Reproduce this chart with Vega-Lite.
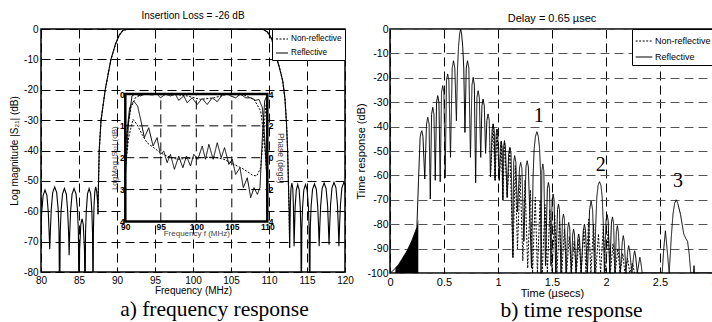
{
  "$schema": "https://vega.github.io/schema/vega-lite/v6.json",
  "background": "white",
  "padding": {"left": 8, "top": 9, "right": 0, "bottom": 0},
  "spacing": 0,
  "config": {
    "font": "Liberation Sans",
    "view": {"stroke": "black", "strokeWidth": 1.5},
    "axis": {"domain": false, "ticks": false, "grid": true, "gridColor": "black", "gridDash": [9, 5], "gridWidth": 1, "gridOpacity": 1, "labelColor": "black", "titleColor": "black", "titleFontWeight": "normal", "labelFlush": false, "labelOverlap": false, "labelFont": "Liberation Sans", "titleFont": "Liberation Sans"},
    "title": {"font": "Liberation Sans", "fontWeight": "normal", "color": "black"}
  },
  "resolve": {"scale": {"strokeDash": "independent"}, "legend": {"strokeDash": "independent"}},
  "datasets": {
    "freq": [
      {"f":80.0,"db":-65,"s":"Reflective"},{"f":80.09,"db":-60.4,"s":"Reflective"},{"f":80.28,"db":-54.8,"s":"Reflective"},{"f":80.53,"db":-53,"s":"Reflective"},{"f":80.78,"db":-54.8,"s":"Reflective"},{"f":80.96,"db":-60.4,"s":"Reflective"},{"f":81.08,"db":-67.6,"s":"Reflective"},{"f":81.15,"db":-72.5,"s":"Reflective"},
      {"f":81.23,"db":-66.6,"s":"Reflective"},{"f":81.35,"db":-59.4,"s":"Reflective"},{"f":81.54,"db":-53.8,"s":"Reflective"},{"f":81.8,"db":-52,"s":"Reflective"},{"f":82.06,"db":-53.8,"s":"Reflective"},{"f":82.26,"db":-59.4,"s":"Reflective"},{"f":82.37,"db":-66.6,"s":"Reflective"},{"f":82.45,"db":-95,"s":"Reflective"},
      {"f":82.53,"db":-67.1,"s":"Reflective"},{"f":82.64,"db":-59.9,"s":"Reflective"},{"f":82.83,"db":-54.3,"s":"Reflective"},{"f":83.08,"db":-52.5,"s":"Reflective"},{"f":83.33,"db":-54.3,"s":"Reflective"},{"f":83.51,"db":-59.9,"s":"Reflective"},{"f":83.63,"db":-67.1,"s":"Reflective"},{"f":83.7,"db":-74.5,"s":"Reflective"},
      {"f":83.78,"db":-67.1,"s":"Reflective"},{"f":83.9,"db":-59.9,"s":"Reflective"},{"f":84.09,"db":-54.3,"s":"Reflective"},{"f":84.35,"db":-52.5,"s":"Reflective"},{"f":84.61,"db":-54.3,"s":"Reflective"},{"f":84.81,"db":-59.9,"s":"Reflective"},{"f":84.92,"db":-67.1,"s":"Reflective"},{"f":85.0,"db":-95,"s":"Reflective"},
      {"f":85.08,"db":-72.7,"s":"Reflective"},{"f":85.24,"db":-64.3,"s":"Reflective"},{"f":85.4,"db":-62.5,"s":"Reflective"},{"f":85.56,"db":-64.3,"s":"Reflective"},{"f":85.72,"db":-72.7,"s":"Reflective"},{"f":85.8,"db":-95,"s":"Reflective"},
      {"f":85.86,"db":-67.1,"s":"Reflective"},{"f":85.96,"db":-59.9,"s":"Reflective"},{"f":86.12,"db":-54.3,"s":"Reflective"},{"f":86.33,"db":-52.5,"s":"Reflective"},{"f":86.54,"db":-54.3,"s":"Reflective"},{"f":86.69,"db":-59.9,"s":"Reflective"},{"f":86.78,"db":-67.1,"s":"Reflective"},{"f":86.85,"db":-95,"s":"Reflective"},
      {"f":86.9,"db":-66,"s":"Reflective"},{"f":86.98,"db":-58,"s":"Reflective"},{"f":87.08,"db":-53.5,"s":"Reflective"},{"f":87.2,"db":-52,"s":"Reflective"},{"f":87.33,"db":-53.5,"s":"Reflective"},{"f":87.45,"db":-57,"s":"Reflective"},{"f":87.5,"db":-61,"s":"Reflective"},{"f":87.53,"db":-55,"s":"Reflective"},{"f":87.66,"db":-40,"s":"Reflective"},{"f":87.9,"db":-30,"s":"Reflective"},{"f":88.45,"db":-20,"s":"Reflective"},{"f":89.2,"db":-10,"s":"Reflective"},{"f":89.8,"db":-5,"s":"Reflective"},{"f":90.3,"db":-2,"s":"Reflective"},{"f":90.8,"db":-0.4,"s":"Reflective"},{"f":91.5,"db":-0.05,"s":"Reflective"},{"f":92.5,"db":0,"s":"Reflective"},{"f":108.5,"db":0,"s":"Reflective"},{"f":109.3,"db":-0.2,"s":"Reflective"},{"f":109.8,"db":-1,"s":"Reflective"},{"f":110.3,"db":-3,"s":"Reflective"},{"f":110.7,"db":-6,"s":"Reflective"},{"f":111.0,"db":-9.5,"s":"Reflective"},{"f":111.4,"db":-13,"s":"Reflective"},{"f":111.8,"db":-17,"s":"Reflective"},{"f":112.1,"db":-23,"s":"Reflective"},{"f":112.3,"db":-31,"s":"Reflective"},{"f":112.45,"db":-40,"s":"Reflective"},{"f":112.55,"db":-50,"s":"Reflective"},{"f":112.65,"db":-60,"s":"Reflective"},{"f":112.72,"db":-72,"s":"Reflective"},
      {"f":112.81,"db":-58.1,"s":"Reflective"},{"f":112.89,"db":-52.5,"s":"Reflective"},{"f":113.01,"db":-50.7,"s":"Reflective"},{"f":113.13,"db":-52.5,"s":"Reflective"},{"f":113.21,"db":-58.1,"s":"Reflective"},{"f":113.3,"db":-71.5,"s":"Reflective"},
      {"f":113.36,"db":-65.8,"s":"Reflective"},{"f":113.44,"db":-58.6,"s":"Reflective"},{"f":113.59,"db":-53,"s":"Reflective"},{"f":113.78,"db":-51.2,"s":"Reflective"},{"f":113.97,"db":-53,"s":"Reflective"},{"f":114.11,"db":-58.6,"s":"Reflective"},{"f":114.19,"db":-65.8,"s":"Reflective"},{"f":114.25,"db":-95,"s":"Reflective"},
      {"f":114.32,"db":-65.8,"s":"Reflective"},{"f":114.42,"db":-58.6,"s":"Reflective"},{"f":114.58,"db":-53,"s":"Reflective"},{"f":114.8,"db":-51.2,"s":"Reflective"},{"f":115.02,"db":-53,"s":"Reflective"},{"f":115.19,"db":-58.6,"s":"Reflective"},{"f":115.28,"db":-65.8,"s":"Reflective"},{"f":115.35,"db":-95,"s":"Reflective"},
      {"f":115.43,"db":-65.6,"s":"Reflective"},{"f":115.54,"db":-58.4,"s":"Reflective"},{"f":115.73,"db":-52.8,"s":"Reflective"},{"f":115.98,"db":-51,"s":"Reflective"},{"f":116.23,"db":-52.8,"s":"Reflective"},{"f":116.41,"db":-58.4,"s":"Reflective"},{"f":116.53,"db":-65.6,"s":"Reflective"},{"f":116.6,"db":-71.5,"s":"Reflective"},
      {"f":116.68,"db":-65.3,"s":"Reflective"},{"f":116.8,"db":-58.1,"s":"Reflective"},{"f":116.99,"db":-52.5,"s":"Reflective"},{"f":117.25,"db":-50.7,"s":"Reflective"},{"f":117.51,"db":-52.5,"s":"Reflective"},{"f":117.71,"db":-58.1,"s":"Reflective"},{"f":117.82,"db":-65.3,"s":"Reflective"},{"f":117.9,"db":-71,"s":"Reflective"},
      {"f":117.98,"db":-65.1,"s":"Reflective"},{"f":118.1,"db":-57.9,"s":"Reflective"},{"f":118.29,"db":-52.3,"s":"Reflective"},{"f":118.55,"db":-50.5,"s":"Reflective"},{"f":118.81,"db":-52.3,"s":"Reflective"},{"f":119.01,"db":-57.9,"s":"Reflective"},{"f":119.12,"db":-65.1,"s":"Reflective"},{"f":119.2,"db":-71.5,"s":"Reflective"},
      {"f":119.28,"db":-65.1,"s":"Reflective"},{"f":119.4,"db":-57.9,"s":"Reflective"},{"f":119.59,"db":-52.3,"s":"Reflective"},{"f":119.85,"db":-50.5,"s":"Reflective"},{"f":120.0,"db":-51.2,"s":"Reflective"},
      {"f":87.5,"db":-61,"s":"Non-reflective"},{"f":87.53,"db":-55,"s":"Non-reflective"},{"f":87.66,"db":-40,"s":"Non-reflective"},{"f":87.9,"db":-30,"s":"Non-reflective"},{"f":88.45,"db":-20,"s":"Non-reflective"},{"f":89.2,"db":-10,"s":"Non-reflective"},{"f":89.8,"db":-5,"s":"Non-reflective"},{"f":90.3,"db":-2,"s":"Non-reflective"},{"f":90.8,"db":-0.4,"s":"Non-reflective"},{"f":91.5,"db":-0.05,"s":"Non-reflective"},{"f":92.5,"db":0,"s":"Non-reflective"},{"f":108.5,"db":0,"s":"Non-reflective"},{"f":109.3,"db":-0.2,"s":"Non-reflective"},{"f":109.8,"db":-1,"s":"Non-reflective"},{"f":110.3,"db":-3,"s":"Non-reflective"},{"f":110.7,"db":-6,"s":"Non-reflective"},{"f":111.0,"db":-9.5,"s":"Non-reflective"},{"f":111.4,"db":-13,"s":"Non-reflective"},{"f":111.8,"db":-17,"s":"Non-reflective"},{"f":112.1,"db":-23,"s":"Non-reflective"},{"f":112.3,"db":-31,"s":"Non-reflective"},{"f":112.45,"db":-40,"s":"Non-reflective"},{"f":112.55,"db":-50,"s":"Non-reflective"},{"f":112.65,"db":-60,"s":"Non-reflective"},{"f":112.72,"db":-72,"s":"Non-reflective"}
    ],
    "mag": [
      {"f":90,"mag":-2.63,"s":"Reflective"},{"f":90.47,"mag":-0.85,"s":"Reflective"},{"f":90.94,"mag":-0.06,"s":"Reflective"},{"f":91.41,"mag":0,"s":"Reflective"},{"f":92.12,"mag":-0.06,"s":"Reflective"},{"f":92.82,"mag":0,"s":"Reflective"},{"f":93.77,"mag":-0.03,"s":"Reflective"},{"f":94.47,"mag":0,"s":"Reflective"},{"f":94.94,"mag":-0.12,"s":"Reflective"},{"f":95.65,"mag":-0.01,"s":"Reflective"},{"f":96.36,"mag":-0.06,"s":"Reflective"},{"f":97.06,"mag":-0.01,"s":"Reflective"},{"f":97.53,"mag":-0.2,"s":"Reflective"},{"f":98.24,"mag":-0.06,"s":"Reflective"},{"f":98.71,"mag":-0.27,"s":"Reflective"},{"f":99.42,"mag":-0.12,"s":"Reflective"},{"f":100.12,"mag":-0.33,"s":"Reflective"},{"f":100.83,"mag":-0.14,"s":"Reflective"},{"f":101.53,"mag":-0.33,"s":"Reflective"},{"f":102.24,"mag":-0.12,"s":"Reflective"},{"f":102.95,"mag":-0.24,"s":"Reflective"},{"f":103.65,"mag":-0.03,"s":"Reflective"},{"f":104.36,"mag":0,"s":"Reflective"},{"f":104.83,"mag":-0.06,"s":"Reflective"},{"f":105.54,"mag":-0.12,"s":"Reflective"},{"f":106.24,"mag":0,"s":"Reflective"},{"f":106.95,"mag":-0.12,"s":"Reflective"},{"f":107.66,"mag":-0.12,"s":"Reflective"},{"f":108.36,"mag":-0.2,"s":"Reflective"},{"f":108.83,"mag":-0.17,"s":"Reflective"},{"f":109.3,"mag":-0.43,"s":"Reflective"},{"f":109.63,"mag":-1.37,"s":"Reflective"},{"f":110.0,"mag":-2.94,"s":"Reflective"},
      {"f":90,"mag":-2.42,"s":"Non-reflective"},{"f":90.33,"mag":-1.06,"s":"Non-reflective"},{"f":90.8,"mag":-0.43,"s":"Non-reflective"},{"f":91.41,"mag":-0.12,"s":"Non-reflective"},{"f":92.35,"mag":-0.01,"s":"Non-reflective"},{"f":94.0,"mag":0,"s":"Non-reflective"},{"f":96.36,"mag":0,"s":"Non-reflective"},{"f":98.71,"mag":-0.06,"s":"Non-reflective"},{"f":100.59,"mag":-0.17,"s":"Non-reflective"},{"f":102.48,"mag":-0.12,"s":"Non-reflective"},{"f":104.36,"mag":-0.01,"s":"Non-reflective"},{"f":106.71,"mag":-0.03,"s":"Non-reflective"},{"f":108.13,"mag":-0.17,"s":"Non-reflective"},{"f":109.07,"mag":-0.53,"s":"Non-reflective"},{"f":109.54,"mag":-1.37,"s":"Non-reflective"},{"f":109.92,"mag":-2.52,"s":"Non-reflective"}
    ],
    "phase": [
      {"f":90,"phase":0.63,"s":"Reflective"},{"f":90.61,"phase":3.14,"s":"Reflective"},{"f":91.18,"phase":3.56,"s":"Reflective"},{"f":91.74,"phase":3.24,"s":"Reflective"},{"f":92.21,"phase":2.3,"s":"Reflective"},{"f":92.68,"phase":1.26,"s":"Reflective"},{"f":93.3,"phase":1.88,"s":"Reflective"},{"f":93.91,"phase":0.73,"s":"Reflective"},{"f":94.47,"phase":1.26,"s":"Reflective"},{"f":94.94,"phase":0.21,"s":"Reflective"},{"f":95.41,"phase":0.42,"s":"Reflective"},{"f":95.89,"phase":-0.31,"s":"Reflective"},{"f":96.36,"phase":0.21,"s":"Reflective"},{"f":96.92,"phase":-0.73,"s":"Reflective"},{"f":97.53,"phase":0.1,"s":"Reflective"},{"f":98.1,"phase":-0.63,"s":"Reflective"},{"f":98.62,"phase":0.1,"s":"Reflective"},{"f":99.18,"phase":-0.52,"s":"Reflective"},{"f":99.65,"phase":0.21,"s":"Reflective"},{"f":100.22,"phase":-0.1,"s":"Reflective"},{"f":100.83,"phase":0.73,"s":"Reflective"},{"f":101.3,"phase":-0.1,"s":"Reflective"},{"f":101.77,"phase":0.84,"s":"Reflective"},{"f":102.38,"phase":-0.1,"s":"Reflective"},{"f":102.95,"phase":0.94,"s":"Reflective"},{"f":103.51,"phase":0.0,"s":"Reflective"},{"f":103.98,"phase":0.63,"s":"Reflective"},{"f":104.6,"phase":-0.42,"s":"Reflective"},{"f":105.07,"phase":-0.1,"s":"Reflective"},{"f":105.54,"phase":-1.05,"s":"Reflective"},{"f":106.15,"phase":-0.63,"s":"Reflective"},{"f":106.62,"phase":-1.88,"s":"Reflective"},{"f":107.18,"phase":-1.26,"s":"Reflective"},{"f":107.66,"phase":-2.51,"s":"Reflective"},{"f":108.13,"phase":-1.88,"s":"Reflective"},{"f":108.6,"phase":-2.3,"s":"Reflective"},{"f":108.97,"phase":-1.88,"s":"Reflective"},{"f":109.3,"phase":1.26,"s":"Reflective"},{"f":109.63,"phase":3.56,"s":"Reflective"},{"f":110.0,"phase":3.98,"s":"Reflective"},
      {"f":90,"phase":-0.63,"s":"Non-reflective"},{"f":90.47,"phase":1.26,"s":"Non-reflective"},{"f":91.08,"phase":2.41,"s":"Non-reflective"},{"f":91.65,"phase":2.09,"s":"Non-reflective"},{"f":92.35,"phase":1.47,"s":"Non-reflective"},{"f":93.06,"phase":0.94,"s":"Non-reflective"},{"f":94.0,"phase":0.63,"s":"Non-reflective"},{"f":94.94,"phase":0.31,"s":"Non-reflective"},{"f":95.89,"phase":0.1,"s":"Non-reflective"},{"f":97.3,"phase":-0.1,"s":"Non-reflective"},{"f":98.71,"phase":-0.04,"s":"Non-reflective"},{"f":100.59,"phase":0.0,"s":"Non-reflective"},{"f":102.48,"phase":0.04,"s":"Non-reflective"},{"f":103.89,"phase":-0.1,"s":"Non-reflective"},{"f":105.3,"phase":-0.42,"s":"Non-reflective"},{"f":106.71,"phase":-0.73,"s":"Non-reflective"},{"f":107.89,"phase":-1.09,"s":"Non-reflective"},{"f":108.5,"phase":-1.15,"s":"Non-reflective"},{"f":109.07,"phase":-0.63,"s":"Non-reflective"},{"f":109.44,"phase":1.26,"s":"Non-reflective"},{"f":109.77,"phase":3.14,"s":"Non-reflective"},{"f":110.0,"phase":3.77,"s":"Non-reflective"}
    ],
    "insetbox": [{"x1":90,"x2":110,"y1":-4,"y2":0}],
    "insetgrid": [
      {"x1":95,"x2":95,"y1":-4,"y2":0},{"x1":100,"x2":100,"y1":-4,"y2":0},{"x1":105,"x2":105,"y1":-4,"y2":0},
      {"x1":90,"x2":110,"y1":-1,"y2":-1},{"x1":90,"x2":110,"y1":-2,"y2":-2},{"x1":90,"x2":110,"y1":-3,"y2":-3}
    ],
    "fill": [
      {"t":0.05,"db":-98},{"t":0.08,"db":-96.5},{"t":0.157,"db":-91},{"t":0.2,"db":-87},{"t":0.249,"db":-81.3},{"t":0.262,"db":-78}
    ],
    "time": [
      {"t":0,"db":-100,"s":"Reflective"},{"t":0.03,"db":-99,"s":"Reflective"},{"t":0.08,"db":-96.5,"s":"Reflective"},{"t":0.157,"db":-91,"s":"Reflective"},{"t":0.2,"db":-87,"s":"Reflective"},{"t":0.249,"db":-81.3,"s":"Reflective"},{"t":0.264,"db":-62,"s":"Reflective"},{"t":0.279,"db":-44.4,"s":"Reflective"},{"t":0.287,"db":-42.5,"s":"Reflective"},{"t":0.295,"db":-41.7,"s":"Reflective"},{"t":0.305,"db":-44,"s":"Reflective"},{"t":0.322,"db":-61.5,"s":"Reflective"},
      {"t":0.338,"db":-39,"s":"Reflective"},{"t":0.35,"db":-36.2,"s":"Reflective"},{"t":0.362,"db":-39,"s":"Reflective"},{"t":0.373,"db":-69.7,"s":"Reflective"},{"t":0.385,"db":-35,"s":"Reflective"},{"t":0.396,"db":-32.1,"s":"Reflective"},{"t":0.407,"db":-35,"s":"Reflective"},{"t":0.419,"db":-62,"s":"Reflective"},{"t":0.431,"db":-30,"s":"Reflective"},{"t":0.442,"db":-27.3,"s":"Reflective"},{"t":0.453,"db":-30,"s":"Reflective"},{"t":0.465,"db":-62.6,"s":"Reflective"},{"t":0.477,"db":-26,"s":"Reflective"},{"t":0.488,"db":-23.2,"s":"Reflective"},{"t":0.499,"db":-26,"s":"Reflective"},{"t":0.511,"db":-61,"s":"Reflective"},{"t":0.523,"db":-21,"s":"Reflective"},{"t":0.534,"db":-18.4,"s":"Reflective"},{"t":0.545,"db":-21,"s":"Reflective"},{"t":0.56,"db":-52.6,"s":"Reflective"},{"t":0.576,"db":-16,"s":"Reflective"},{"t":0.588,"db":-13,"s":"Reflective"},{"t":0.6,"db":-16,"s":"Reflective"},{"t":0.615,"db":-37.6,"s":"Reflective"},
      {"t":0.625,"db":-16,"s":"Reflective"},{"t":0.635,"db":-7,"s":"Reflective"},{"t":0.645,"db":-2,"s":"Reflective"},{"t":0.654,"db":0,"s":"Reflective"},{"t":0.663,"db":-2,"s":"Reflective"},{"t":0.673,"db":-7,"s":"Reflective"},{"t":0.683,"db":-16,"s":"Reflective"},{"t":0.694,"db":-42.4,"s":"Reflective"},
      {"t":0.706,"db":-16,"s":"Reflective"},{"t":0.718,"db":-13,"s":"Reflective"},{"t":0.73,"db":-16,"s":"Reflective"},{"t":0.745,"db":-52.6,"s":"Reflective"},{"t":0.759,"db":-23,"s":"Reflective"},{"t":0.77,"db":-19.8,"s":"Reflective"},{"t":0.781,"db":-23,"s":"Reflective"},{"t":0.793,"db":-63,"s":"Reflective"},{"t":0.805,"db":-28,"s":"Reflective"},{"t":0.816,"db":-25.3,"s":"Reflective"},{"t":0.827,"db":-28,"s":"Reflective"},{"t":0.84,"db":-52.6,"s":"Reflective"},{"t":0.851,"db":-31.5,"s":"Reflective"},{"t":0.862,"db":-28.7,"s":"Reflective"},{"t":0.873,"db":-31.5,"s":"Reflective"},{"t":0.885,"db":-51,"s":"Reflective"},{"t":0.897,"db":-37.5,"s":"Reflective"},{"t":0.908,"db":-34.8,"s":"Reflective"},{"t":0.919,"db":-37.5,"s":"Reflective"},{"t":0.93,"db":-60.5,"s":"Reflective"},{"t":0.945,"db":-41.5,"s":"Reflective"},{"t":0.955,"db":-38.9,"s":"Reflective"},{"t":0.965,"db":-41.5,"s":"Reflective"},{"t":0.973,"db":-62,"s":"Reflective"},{"t":0.982,"db":-43.5,"s":"Reflective"},{"t":0.99,"db":-41,"s":"Reflective"},{"t":0.998,"db":-43.5,"s":"Reflective"},{"t":1.012,"db":-62,"s":"Reflective"},
      {"t":1.022,"db":-48.5,"s":"Reflective"},{"t":1.03,"db":-46,"s":"Reflective"},{"t":1.038,"db":-48.5,"s":"Reflective"},{"t":1.045,"db":-70,"s":"Reflective"},{"t":1.051,"db":-48.5,"s":"Reflective"},{"t":1.06,"db":-45.8,"s":"Reflective"},{"t":1.069,"db":-48.5,"s":"Reflective"},{"t":1.085,"db":-69,"s":"Reflective"},{"t":1.099,"db":-51,"s":"Reflective"},{"t":1.11,"db":-48.5,"s":"Reflective"},{"t":1.121,"db":-51,"s":"Reflective"},{"t":1.138,"db":-93.6,"s":"Reflective"},{"t":1.145,"db":-54.5,"s":"Reflective"},{"t":1.154,"db":-51.9,"s":"Reflective"},{"t":1.165,"db":-54.5,"s":"Reflective"},{"t":1.18,"db":-75,"s":"Reflective"},{"t":1.199,"db":-57,"s":"Reflective"},{"t":1.21,"db":-54.7,"s":"Reflective"},{"t":1.221,"db":-57,"s":"Reflective"},{"t":1.24,"db":-87,"s":"Reflective"},{"t":1.259,"db":-56.5,"s":"Reflective"},{"t":1.27,"db":-54,"s":"Reflective"},{"t":1.281,"db":-56.5,"s":"Reflective"},{"t":1.31,"db":-98,"s":"Reflective"},
      {"t":1.325,"db":-60,"s":"Reflective"},{"t":1.335,"db":-49,"s":"Reflective"},{"t":1.347,"db":-44,"s":"Reflective"},{"t":1.36,"db":-42.1,"s":"Reflective"},{"t":1.373,"db":-44,"s":"Reflective"},{"t":1.385,"db":-49,"s":"Reflective"},{"t":1.395,"db":-60,"s":"Reflective"},{"t":1.398,"db":-100,"s":"Reflective"},
      {"t":1.406,"db":-58,"s":"Reflective"},{"t":1.415,"db":-55.3,"s":"Reflective"},{"t":1.424,"db":-58,"s":"Reflective"},{"t":1.44,"db":-97,"s":"Reflective"},{"t":1.457,"db":-65.5,"s":"Reflective"},{"t":1.467,"db":-62.9,"s":"Reflective"},{"t":1.477,"db":-65.5,"s":"Reflective"},{"t":1.49,"db":-97,"s":"Reflective"},{"t":1.501,"db":-70,"s":"Reflective"},{"t":1.51,"db":-67.6,"s":"Reflective"},{"t":1.519,"db":-70,"s":"Reflective"},{"t":1.535,"db":-100,"s":"Reflective"},{"t":1.551,"db":-74,"s":"Reflective"},{"t":1.56,"db":-71.7,"s":"Reflective"},{"t":1.569,"db":-74,"s":"Reflective"},{"t":1.583,"db":-100,"s":"Reflective"},{"t":1.597,"db":-78,"s":"Reflective"},{"t":1.606,"db":-75.8,"s":"Reflective"},{"t":1.615,"db":-78,"s":"Reflective"},{"t":1.63,"db":-100,"s":"Reflective"},{"t":1.646,"db":-81.5,"s":"Reflective"},{"t":1.655,"db":-79.3,"s":"Reflective"},{"t":1.664,"db":-81.5,"s":"Reflective"},{"t":1.678,"db":-100,"s":"Reflective"},{"t":1.692,"db":-84,"s":"Reflective"},{"t":1.7,"db":-82,"s":"Reflective"},{"t":1.708,"db":-84,"s":"Reflective"},{"t":1.722,"db":-100,"s":"Reflective"},{"t":1.739,"db":-86,"s":"Reflective"},{"t":1.747,"db":-84,"s":"Reflective"},{"t":1.755,"db":-86,"s":"Reflective"},{"t":1.77,"db":-100,"s":"Reflective"},{"t":1.79,"db":-82.5,"s":"Reflective"},{"t":1.8,"db":-80,"s":"Reflective"},{"t":1.81,"db":-82.5,"s":"Reflective"},{"t":1.828,"db":-100,"s":"Reflective"},{"t":1.848,"db":-74,"s":"Reflective"},{"t":1.862,"db":-70.5,"s":"Reflective"},{"t":1.876,"db":-74,"s":"Reflective"},{"t":1.895,"db":-100,"s":"Reflective"},
      {"t":1.905,"db":-80,"s":"Reflective"},{"t":1.915,"db":-69,"s":"Reflective"},{"t":1.927,"db":-64,"s":"Reflective"},{"t":1.94,"db":-62.6,"s":"Reflective"},{"t":1.953,"db":-64,"s":"Reflective"},{"t":1.965,"db":-69,"s":"Reflective"},{"t":1.975,"db":-80,"s":"Reflective"},{"t":1.985,"db":-100,"s":"Reflective"},
      {"t":2.0,"db":-78.5,"s":"Reflective"},{"t":2.01,"db":-76,"s":"Reflective"},{"t":2.02,"db":-78.5,"s":"Reflective"},{"t":2.035,"db":-100,"s":"Reflective"},{"t":2.05,"db":-79.5,"s":"Reflective"},{"t":2.06,"db":-77,"s":"Reflective"},{"t":2.07,"db":-79.5,"s":"Reflective"},{"t":2.083,"db":-100,"s":"Reflective"},{"t":2.096,"db":-83,"s":"Reflective"},{"t":2.105,"db":-80.6,"s":"Reflective"},{"t":2.114,"db":-83,"s":"Reflective"},{"t":2.133,"db":-100,"s":"Reflective"},{"t":2.151,"db":-87,"s":"Reflective"},{"t":2.16,"db":-84.7,"s":"Reflective"},{"t":2.169,"db":-87,"s":"Reflective"},{"t":2.185,"db":-100,"s":"Reflective"},{"t":2.201,"db":-91,"s":"Reflective"},{"t":2.21,"db":-88.8,"s":"Reflective"},{"t":2.219,"db":-91,"s":"Reflective"},{"t":2.24,"db":-100,"s":"Reflective"},{"t":2.256,"db":-93,"s":"Reflective"},{"t":2.265,"db":-90.9,"s":"Reflective"},{"t":2.274,"db":-93,"s":"Reflective"},{"t":2.29,"db":-100,"s":"Reflective"},{"t":2.306,"db":-95.5,"s":"Reflective"},{"t":2.314,"db":-93.6,"s":"Reflective"},{"t":2.322,"db":-95.5,"s":"Reflective"},{"t":2.335,"db":-100,"s":"Reflective"},
      {"t":2.52,"db":-100,"s":"Reflective"},{"t":2.535,"db":-90,"s":"Reflective"},{"t":2.55,"db":-82.7,"s":"Reflective"},{"t":2.565,"db":-90,"s":"Reflective"},{"t":2.585,"db":-100,"s":"Reflective"},{"t":2.605,"db":-85,"s":"Reflective"},{"t":2.62,"db":-76,"s":"Reflective"},{"t":2.635,"db":-71.5,"s":"Reflective"},{"t":2.65,"db":-70,"s":"Reflective"},{"t":2.665,"db":-71.5,"s":"Reflective"},{"t":2.69,"db":-76,"s":"Reflective"},{"t":2.72,"db":-84,"s":"Reflective"},{"t":2.74,"db":-86,"s":"Reflective"},{"t":2.755,"db":-87,"s":"Reflective"},{"t":2.77,"db":-92,"s":"Reflective"},{"t":2.785,"db":-100,"s":"Reflective"},{"t":2.81,"db":-100,"s":"Reflective"},{"t":2.815,"db":-97,"s":"Reflective"},{"t":2.82,"db":-100,"s":"Reflective"},{"t":3.0,"db":-100,"s":"Reflective"},
      {"t":0.93,"db":-60.5,"s":"Non-reflective"},{"t":0.955,"db":-38.9,"s":"Non-reflective"},{"t":0.973,"db":-62,"s":"Non-reflective"},{"t":0.99,"db":-41,"s":"Non-reflective"},{"t":1.012,"db":-62,"s":"Non-reflective"},{"t":1.03,"db":-46,"s":"Non-reflective"},{"t":1.045,"db":-70,"s":"Non-reflective"},{"t":1.06,"db":-45.8,"s":"Non-reflective"},{"t":1.085,"db":-69,"s":"Non-reflective"},{"t":1.11,"db":-48.5,"s":"Non-reflective"},{"t":1.138,"db":-93.6,"s":"Non-reflective"},{"t":1.16,"db":-56,"s":"Non-reflective"},{"t":1.18,"db":-90,"s":"Non-reflective"},{"t":1.205,"db":-60,"s":"Non-reflective"},{"t":1.23,"db":-95,"s":"Non-reflective"},{"t":1.25,"db":-62,"s":"Non-reflective"},{"t":1.275,"db":-98,"s":"Non-reflective"},{"t":1.3,"db":-66,"s":"Non-reflective"},{"t":1.32,"db":-100,"s":"Non-reflective"},{"t":1.345,"db":-69,"s":"Non-reflective"},{"t":1.365,"db":-100,"s":"Non-reflective"},{"t":1.39,"db":-70,"s":"Non-reflective"},{"t":1.41,"db":-100,"s":"Non-reflective"},{"t":1.435,"db":-72,"s":"Non-reflective"},{"t":1.457,"db":-100,"s":"Non-reflective"},{"t":1.48,"db":-74,"s":"Non-reflective"},{"t":1.5,"db":-100,"s":"Non-reflective"},{"t":1.525,"db":-76,"s":"Non-reflective"},{"t":1.545,"db":-100,"s":"Non-reflective"},{"t":1.57,"db":-79,"s":"Non-reflective"},{"t":1.59,"db":-100,"s":"Non-reflective"},{"t":1.615,"db":-82,"s":"Non-reflective"},{"t":1.635,"db":-100,"s":"Non-reflective"},{"t":1.66,"db":-85,"s":"Non-reflective"},{"t":1.68,"db":-100,"s":"Non-reflective"},{"t":1.705,"db":-87,"s":"Non-reflective"},{"t":1.725,"db":-100,"s":"Non-reflective"},{"t":1.75,"db":-86,"s":"Non-reflective"},{"t":1.77,"db":-100,"s":"Non-reflective"},{"t":1.795,"db":-82,"s":"Non-reflective"},{"t":1.815,"db":-100,"s":"Non-reflective"},{"t":1.84,"db":-78,"s":"Non-reflective"},{"t":1.86,"db":-100,"s":"Non-reflective"},{"t":1.885,"db":-80,"s":"Non-reflective"},{"t":1.905,"db":-100,"s":"Non-reflective"},{"t":1.93,"db":-84,"s":"Non-reflective"},{"t":1.95,"db":-100,"s":"Non-reflective"},{"t":1.975,"db":-81,"s":"Non-reflective"},{"t":1.995,"db":-100,"s":"Non-reflective"},{"t":2.02,"db":-83,"s":"Non-reflective"},{"t":2.04,"db":-100,"s":"Non-reflective"},{"t":2.065,"db":-88,"s":"Non-reflective"},{"t":2.085,"db":-100,"s":"Non-reflective"},{"t":2.11,"db":-90,"s":"Non-reflective"},{"t":2.13,"db":-100,"s":"Non-reflective"},{"t":2.155,"db":-92,"s":"Non-reflective"},{"t":2.175,"db":-100,"s":"Non-reflective"},{"t":2.2,"db":-94,"s":"Non-reflective"},{"t":2.22,"db":-100,"s":"Non-reflective"},{"t":2.245,"db":-96,"s":"Non-reflective"},{"t":2.265,"db":-100,"s":"Non-reflective"},{"t":2.3,"db":-100,"s":"Non-reflective"}
    ],
    "marks": [
      {"t":1.378,"db":-35.6,"label":"1"},{"t":1.952,"db":-55.6,"label":"2"},{"t":2.666,"db":-62.2,"label":"3"}
    ]
  },
  "hconcat": [
    {
      "title": {"text": "a) frequency response", "orient": "bottom", "font": "Liberation Serif", "fontSize": 21.5, "fontWeight": "normal", "offset": 3, "anchor": "middle", "dx": 33},
      "resolve": {"scale": {"strokeDash": "independent"}, "legend": {"strokeDash": "independent"}},
      "vconcat": [
        {
          "width": 304,
          "height": 243,
          "title": {"text": "Insertion Loss = -26 dB", "fontSize": 10, "offset": 3.5},
          "layer": [
            {
              "data": {"name": "freq"},
              "mark": {"type": "line", "clip": true, "color": "black", "strokeWidth": 1.1},
              "encoding": {
                "x": {"field": "f", "type": "quantitative", "scale": {"domain": [80, 120], "nice": false, "zero": false},
                  "axis": {"orient": "bottom", "values": [80, 85, 90, 95, 100, 105, 110, 115, 120], "labelExpr": "'' + datum.value", "title": "Frequency  (MHz)", "labelFontSize": 10, "titleFontSize": 10, "labelPadding": 3, "titlePadding": 0}},
                "y": {"field": "db", "type": "quantitative", "scale": {"domain": [-80, 0], "nice": false, "zero": false},
                  "axis": {"orient": "left", "values": [-80, -70, -60, -50, -40, -30, -20, -10, 0], "labelExpr": "'' + datum.value", "title": "Log magnitude  |S₂₁|  (dB)", "labelFontSize": 10, "titleFontSize": 10, "labelPadding": 3, "titlePadding": 4}},
                "strokeDash": {"field": "s", "type": "nominal", "scale": {"domain": ["Non-reflective", "Reflective"], "range": [[2, 1.5], [1, 0]]},
                  "legend": {"orient": "top-right", "offset": 0, "title": null, "strokeColor": "black", "fillColor": "white", "padding": 3, "labelFontSize": 8.2, "labelColor": "black", "symbolType": "stroke", "symbolSize": 144, "symbolStrokeWidth": 1.2, "symbolStrokeColor": "black", "rowPadding": 3, "labelOffset": 2}}
              }
            },
            {
              "layer": [
                {
                  "layer": [
                    {
                      "data": {"name": "insetbox"},
                      "mark": {"type": "rect", "fill": "white", "stroke": "black", "strokeWidth": 2.5},
                      "encoding": {
                        "x": {"field": "x1", "type": "quantitative", "scale": {"domain": [90, 110], "range": [84.3, 226.3], "nice": false, "zero": false}},
                        "x2": {"field": "x2"},
                        "y": {"field": "y1", "type": "quantitative", "scale": {"domain": [-4, 0], "range": [192.4, 65], "nice": false, "zero": false}},
                        "y2": {"field": "y2"}
                      }
                    },
                    {
                      "data": {"name": "insetgrid"},
                      "mark": {"type": "rule", "color": "black", "strokeDash": [9, 5], "strokeWidth": 1},
                      "encoding": {
                        "x": {"field": "x1", "type": "quantitative"},
                        "x2": {"field": "x2"},
                        "y": {"field": "y1", "type": "quantitative"},
                        "y2": {"field": "y2"}
                      }
                    },
                    {
                      "data": {"name": "mag"},
                      "mark": {"type": "line", "color": "black", "strokeWidth": 1},
                      "encoding": {
                        "x": {"field": "f", "type": "quantitative",
                          "axis": {"orient": "bottom", "offset": -50.6, "values": [90, 95, 100, 105, 110], "labelExpr": "'' + datum.value", "title": "Frequency  f (MHz)", "grid": false, "labelFontSize": 8.5, "labelFontWeight": "bold", "titleFontSize": 8, "titleColor": "#444", "labelPadding": 1, "titlePadding": -1, "zindex": 1}},
                        "y": {"field": "mag", "type": "quantitative",
                          "axis": {"orient": "left", "offset": -84.3, "values": [-4, -3, -2, -1, 0], "labelExpr": "'' + abs(datum.value)", "title": "LogMag |S₂₁| (dB)", "grid": false, "labelFontSize": 8.5, "labelFontWeight": "bold", "titleFontSize": 8, "titleColor": "#444", "labelPadding": 1, "titlePadding": 1, "zindex": 1}},
                        "strokeDash": {"field": "s", "type": "nominal"}
                      }
                    }
                  ]
                },
                {
                  "data": {"name": "phase"},
                  "mark": {"type": "line", "color": "black", "strokeWidth": 1},
                  "encoding": {
                    "x": {"field": "f", "type": "quantitative"},
                    "y": {"field": "phase", "type": "quantitative", "scale": {"domain": [-4, 4], "range": [192.4, 65], "nice": false, "zero": false},
                      "axis": {"orient": "right", "offset": -77.7, "values": [-4, -2, 0, 2, 4], "labelExpr": "'' + abs(datum.value)", "title": "Phase (degs)", "grid": false, "labelFontSize": 8.5, "labelFontWeight": "bold", "titleFontSize": 8.5, "titleColor": "#444", "labelPadding": 1, "titlePadding": 2, "zindex": 1}},
                    "strokeDash": {"field": "s", "type": "nominal"}
                  }
                }
              ],
              "resolve": {"scale": {"y": "independent"}}
            }
          ],
          "resolve": {"scale": {"x": "independent", "y": "independent"}}
        }
      ]
    },
    {
      "title": {"text": "b) time response", "orient": "bottom", "font": "Liberation Serif", "fontSize": 21.5, "fontWeight": "normal", "offset": 1, "anchor": "middle", "dx": 35},
      "resolve": {"scale": {"strokeDash": "independent"}, "legend": {"strokeDash": "independent"}},
      "vconcat": [
        {
          "width": 324,
          "height": 244,
          "title": {"text": "Delay = 0.65 µsec", "fontSize": 11, "offset": 0.5},
          "encoding": {
            "x": {"field": "t", "type": "quantitative", "scale": {"domain": [0, 3], "nice": false, "zero": false},
              "axis": {"orient": "bottom", "values": [0, 0.5, 1, 1.5, 2, 2.5, 3], "labelExpr": "'' + datum.value", "title": "Time (µsecs)", "labelFontSize": 11, "titleFontSize": 11, "labelPadding": 3, "titlePadding": 0}},
            "y": {"field": "db", "type": "quantitative", "scale": {"domain": [-100, 0], "nice": false, "zero": false},
              "axis": {"orient": "left", "values": [-100, -90, -80, -70, -60, -50, -40, -30, -20, -10, 0], "labelExpr": "'' + datum.value", "title": "Time response  (dB)", "gridColor": "#555", "labelFontSize": 10.5, "titleFontSize": 11, "labelPadding": 2, "titlePadding": 0}}
          },
          "layer": [
            {
              "data": {"name": "fill"},
              "mark": {"type": "area", "color": "black", "clip": true},
              "encoding": {"y2": {"datum": -100}}
            },
            {
              "data": {"name": "time"},
              "mark": {"type": "line", "clip": true, "color": "black", "strokeWidth": 1},
              "encoding": {
                "strokeDash": {"field": "s", "type": "nominal", "scale": {"domain": ["Non-reflective", "Reflective"], "range": [[2, 1.5], [1, 0]]},
                  "legend": {"orient": "top-right", "offset": 0, "title": null, "strokeColor": "black", "fillColor": "white", "padding": 3, "labelFontSize": 9, "labelColor": "black", "symbolType": "stroke", "symbolSize": 279, "symbolStrokeWidth": 1.2, "symbolStrokeColor": "black", "rowPadding": 2, "labelOffset": 2}}
              }
            },
            {
              "data": {"name": "marks"},
              "mark": {"type": "text", "font": "Liberation Serif", "fontSize": 20, "align": "center", "baseline": "middle", "color": "black"},
              "encoding": {"text": {"field": "label"}}
            }
          ]
        }
      ]
    }
  ]
}
